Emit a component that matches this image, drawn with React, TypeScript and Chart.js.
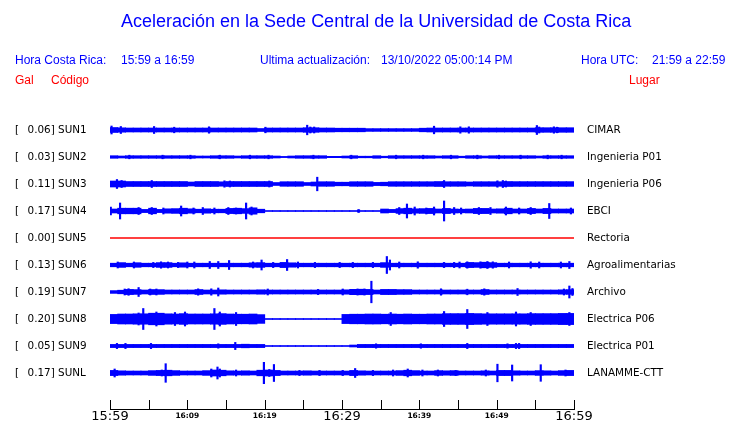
import React, { useEffect, useRef } from 'react';
import { Chart, registerables } from 'chart.js';

Chart.register(...registerables);

// ---- axis / labels ----
const tickMinutes = [0, 5, 10, 15, 20, 25, 30, 35, 40, 45, 50, 55, 60];
const labelMinutes = [0, 10, 20, 30, 40, 50, 60];
const timeLabels = ['15:59', '16:09', '16:19', '16:29', '16:39', '16:49', '16:59'];
const bigLabelMinutes = [0, 30, 60];

const stationCodes = ['SUN1', 'SUN2', 'SUN3', 'SUN4', 'SUN5', 'SUN6', 'SUN7', 'SUN8', 'SUN9', 'SUNL'];
const peakGal = [0.06, 0.03, 0.11, 0.17, 0.0, 0.13, 0.19, 0.2, 0.05, 0.17];
const places = ['CIMAR', 'Ingenieria P01', 'Ingenieria P06', 'EBCI', 'Rectoria', 'Agroalimentarias', 'Archivo', 'Electrica P06', 'Electrica P01', 'LANAMME-CTT'];

// ---- trace envelopes: half-amplitude per minute (normalised units) ----
const sun1Base = [2.5,2.2,2.0,2.0,2.0,2.0,2.0,2.0,2.0,2.0, 2.0,2.0,2.0,2.0,2.0,2.0,2.0,2.0,2.0,1.5, 2.0,2.0,2.0,2.0,2.0,2.3,2.3,2.0,2.0,1.8, 1.8,1.8,1.8,1.4,1.4,1.4,1.4,1.4,1.4,1.4, 1.8,2.0,2.0,2.0,2.0,2.0,2.0,2.0,2.0,2.0, 2.0,2.0,2.0,2.0,2.0,2.3,2.3,2.3,2.3,2.3];
const sun2Base = [1.3,1.0,1.3,1.3,1.3,1.3,1.3,1.3,1.3,1.3, 1.3,1.0,1.0,1.3,1.3,1.3,1.0,1.3,1.3,1.3, 1.3,1.0,0.6,1.0,1.3,1.3,1.3,1.3,0.7,0.7, 1.0,1.3,0.8,0.8,1.3,0.8,1.3,1.3,1.3,1.3, 1.3,1.3,1.0,1.3,1.3,0.8,1.3,1.3,1.0,1.3, 1.3,1.3,1.3,1.3,1.3,1.0,1.3,1.3,1.3,1.3];
const sun3Base = [3.0,3.0,2.5,2.5,2.5,2.5,2.5,2.5,2.5,2.5, 2.0,2.5,2.5,2.5,2.2,2.5,2.5,2.5,2.5,2.5, 2.5,1.5,2.3,2.3,2.3,1.5,2.0,2.3,2.3,1.8, 1.8,2.3,2.3,2.3,1.6,1.8,2.3,2.3,2.3,2.3, 2.3,2.3,2.5,2.3,2.3,2.3,2.0,2.3,2.3,2.3, 2.3,2.5,2.4,2.4,2.4,2.4,2.4,2.4,2.4,2.4];
const sun4Base = [2.0,2.8,2.8,2.8,1.6,2.8,1.6,2.2,2.4,2.8, 2.2,1.8,2.2,1.8,1.8,2.6,2.8,2.4,3.2,1.8, 0.5,0.5,0.5,0.5,0.5,0.5,0.5,0.5,0.5,0.5, 0.5,0.5,0.5,0.5,0.5,2.0,1.6,2.4,2.8,2.2, 2.4,2.6,2.0,2.6,2.0,1.8,2.0,2.6,2.6,2.0, 2.2,2.8,2.0,2.0,2.6,2.0,2.6,2.0,2.0,2.0];
const sun5Level = [0, 0];
const sun5Minutes = [0, 60];
const sun6Base = [1.8,2.4,1.8,2.3,1.8,1.8,2.4,2.4,1.8,2.2, 1.8,1.8,1.8,1.8,1.8,1.8,1.8,1.8,2.2,2.4, 1.8,1.8,2.6,2.2,1.8,1.8,1.8,1.8,1.8,1.8, 1.8,1.8,1.8,1.8,1.8,2.4,1.8,1.8,1.8,1.8, 1.8,1.8,1.8,1.8,1.8,1.8,2.6,2.4,2.8,2.4, 1.8,1.8,1.8,1.8,1.8,1.8,1.8,1.8,1.8,1.8];
const sun7Base = [1.4,1.8,2.6,2.4,2.0,2.5,2.4,2.0,2.0,2.0, 2.0,2.5,2.0,2.0,2.2,2.0,2.0,2.0,2.0,2.2, 2.0,2.0,2.0,2.0,2.0,2.0,2.0,2.0,2.0,2.0, 2.2,2.7,2.8,2.6,2.0,2.6,2.6,2.4,2.4,2.0, 2.0,2.0,2.0,2.0,2.0,2.0,2.0,2.0,2.5,2.0, 2.0,2.0,2.0,2.0,2.0,2.0,2.0,2.0,2.2,2.4];
const sun8Base = [4.6,5.0,5.0,5.2,5.2,5.8,5.8,5.2,5.0,5.4, 5.0,5.0,5.0,5.2,5.4,5.0,4.8,4.8,5.0,4.4, 0.5,0.5,0.5,0.5,0.5,0.5,0.5,0.5,0.5,0.5, 4.6,4.8,4.8,5.0,5.0,4.8,5.0,4.8,5.0,4.8, 4.8,5.0,5.0,5.4,5.4,5.4,5.6,5.4,5.2,5.2, 5.2,5.2,5.2,5.2,5.4,5.4,5.4,5.4,5.6,5.6];
const sun9Base = [1.6,1.6,1.6,1.6,1.6,1.6,1.6,1.6,1.6,1.6, 1.6,1.6,1.6,1.6,1.6,1.6,1.6,1.8,1.6,1.6, 0.5,0.5,0.5,0.5,0.5,0.5,0.5,0.5,0.5,0.5, 0.5,1.0,1.6,1.6,1.6,1.6,1.6,1.6,1.6,1.6, 1.6,1.6,1.6,1.6,1.6,1.6,1.6,1.6,1.6,1.6, 1.6,1.6,1.6,1.6,1.6,1.6,1.6,1.6,1.6,1.6];
const sunLBase = [2.6,2.2,2.0,2.0,2.0,2.4,2.6,2.8,2.4,2.0, 2.0,2.0,2.4,3.0,2.8,2.2,2.0,2.2,2.0,2.8, 3.0,2.6,2.0,2.0,2.0,2.2,2.0,2.0,2.0,2.0, 2.0,2.6,2.2,2.0,2.0,2.0,2.0,2.4,2.8,2.4, 2.0,2.0,2.4,2.2,2.4,2.0,2.0,2.0,2.2,2.0, 2.6,2.6,2.2,2.0,2.0,2.4,2.2,2.0,2.4,2.6];

// ---- peaks: [minute after 15:59, half-amplitude] ----
const sun1Spikes = [[0.2,4],[1.4,3.5],[5.7,3.5],[8.3,2.8],[12.8,3.2],[20.1,2.8],[25.5,4.8],[25.9,3],[26.4,3],[41.9,3.8],[45.3,3.2],[46.4,3.2],[55.2,4.5],[55.5,3],[57.4,3.2],[57.8,2.8]];
const sun2Spikes = [[2.5,1.8],[6.8,1.8],[10.4,1.8],[14.2,1.8],[18.1,1.8],[20.5,1.8],[26.3,1.8],[31.2,1.8],[37.0,1.8],[40.5,1.8],[44.1,1.8],[47.5,1.8],[50.3,1.8],[53.1,1.8],[56.6,1.8],[58.4,1.8]];
const sun3Spikes = [[0.9,4.5],[1.5,3.5],[5.4,3.5],[14.8,3.2],[15.5,3],[20.6,3],[26.8,6.8],[43.2,3.5],[50.1,3.2],[50.8,3.5],[51.2,3]];
const sun4Spikes = [[0.1,4],[1.3,8],[3.7,3.5],[5.4,3.5],[6.9,3],[9.2,5],[10.8,3],[12.0,3.5],[13.5,3],[15.3,3.5],[16.3,3],[17.6,8],[18.3,4],[32.1,1.3],[32.2,1.3],[37.4,3.5],[38.4,7],[39.4,4],[40.9,3],[41.9,4],[43.2,10],[44.5,3.5],[45.4,3],[47.7,3.5],[49.2,3.5],[51.2,4],[52.9,3],[54.4,3.5],[56.8,7.5],[59.6,3]];
const sun6Spikes = [[1.0,3],[3.1,3],[5.6,2.6],[6.6,3.2],[7.5,3],[8.8,2.6],[10.0,3],[10.9,3],[12.9,3.5],[14.0,3.5],[15.4,4.5],[18.5,3],[19.6,5],[21.1,2.6],[22.9,5.5],[24.3,3],[26.5,2.6],[29.7,2.6],[31.4,2.6],[34.0,2.6],[35.8,8.5],[36.2,5],[37.4,3],[39.8,3.2],[43.2,2.6],[44.5,2.6],[45.2,3],[46.2,3.2],[47.9,3.2],[48.8,3.5],[49.5,3.2],[51.6,3],[54.4,3.2],[55.5,3],[58.3,3],[59.4,3.5]];
const sun7Spikes = [[1.9,3],[2.4,3.3],[3.7,4.5],[5.2,3],[6.0,3],[11.4,3.2],[13.1,3.2],[14.0,4],[20.4,3],[26.9,2.6],[30.1,3],[32.0,3],[32.9,3],[33.8,10.8],[42.8,3.2],[46.2,2.8],[48.4,3.2],[52.7,3.5],[58.7,3],[59.4,6],[59.8,3.5]];
const sun8Spikes = [[3.7,6],[4.3,10.5],[6.0,7],[8.4,6.5],[9.7,7],[13.5,10.5],[14.2,7],[16.3,6.5],[36.3,6.5],[43.2,7.5],[46.2,9.5],[48.8,6.5],[52.5,7],[54.4,6.5],[59.4,6.5]];
const sun9Spikes = [[0.9,2.6],[2.0,2.6],[5.3,2.6],[14.0,2.2],[16.2,3.6],[34.4,2.2],[40.2,2.2],[46.2,2.6],[51.4,2.2],[52.5,2.6],[52.9,2.6]];
const sunLSpikes = [[0.6,4],[6.7,3],[7.2,9.3],[13.1,4],[13.9,6],[14.2,4],[16.3,3],[19.9,10.7],[20.6,3.5],[21.2,8.5],[24.5,2.6],[27.1,2.6],[30.1,2.6],[31.7,4.5],[34.0,2.6],[36.6,3],[38.5,4],[40.4,3],[42.4,3],[44.7,2.6],[48.6,3],[50.1,8.8],[52.0,8],[55.7,8.3],[58.9,3]];

const baseSeries = [sun1Base, sun2Base, sun3Base, sun4Base, null, sun6Base, sun7Base, sun8Base, sun9Base, sunLBase];
const spikeSeries = [sun1Spikes, sun2Spikes, sun3Spikes, sun4Spikes, null, sun6Spikes, sun7Spikes, sun8Spikes, sun9Spikes, sunLSpikes];

const TRACE_SPACING = 27;
const BLUE = '#0000ff';
const RED = '#ff0000';

export default function App() {
  const ref = useRef<HTMLCanvasElement>(null);

  useEffect(() => {
    const rowValues = stationCodes.map((_, i) => TRACE_SPACING * (i + 1));
    const yMax = TRACE_SPACING * 11 + TRACE_SPACING / 3;
    const leftLabels = stationCodes.map((c, i) => `[\u2002 ${peakGal[i].toFixed(2)}] ${c}`);

    const datasets: any[] = [];
    stationCodes.forEach((_, i) => {
      const off = rowValues[i];
      const base = baseSeries[i];
      const spikes = spikeSeries[i];
      if (!base) {
        datasets.push({
          type: 'line',
          data: sun5Level.map((v, k) => ({ x: sun5Minutes[k], y: off + v })),
          borderColor: RED,
          borderWidth: 1.5,
          pointRadius: 0,
          yAxisID: 'y',
        });
        return;
      }
      datasets.push({
        type: 'bar',
        data: base.map((a, k) => ({ x: k + 0.5, y: [off - a, off + a] })),
        backgroundColor: BLUE,
        borderWidth: 0,
        barThickness: 8,
        stack: 'one',
        yAxisID: 'y',
      });
      datasets.push({
        type: 'bar',
        data: (spikes || []).map(([t, a]) => ({ x: t, y: [off - a, off + a] })),
        backgroundColor: BLUE,
        borderWidth: 0,
        barThickness: 1.5,
        stack: 'one',
        yAxisID: 'y',
      });
    });

    const tickMarks = {
      id: 'tickMarks',
      afterDraw(chart: any) {
        const xs = chart.scales.x;
        const { ctx, chartArea } = chart;
        ctx.save();
        ctx.strokeStyle = '#000';
        ctx.lineWidth = 1;
        ctx.beginPath();
        xs.ticks.forEach((t: any) => {
          const px = Math.round(xs.getPixelForValue(t.value)) + 0.5;
          ctx.moveTo(px, chartArea.bottom);
          ctx.lineTo(px, chartArea.bottom - 9);
        });
        ctx.stroke();
        ctx.restore();
      },
    };

    const yCommon = {
      type: 'linear',
      min: 0,
      max: yMax,
      reverse: true,
      stacked: false,
      grid: { display: false, drawTicks: false },
      border: { display: false },
      afterBuildTicks: (scale: any) => {
        scale.ticks = rowValues.map((v) => ({ value: v }));
      },
    };

    const chart = new Chart(ref.current!, {
      type: 'bar',
      data: { datasets },
      options: {
        animation: false,
        responsive: false,
        events: [],
        layout: { autoPadding: false, padding: { top: 103, left: 15, right: 0, bottom: 0 } },
        plugins: { legend: { display: false }, tooltip: { enabled: false }, title: { display: false } },
        scales: {
          x: {
            type: 'linear',
            min: 0,
            max: 60,
            offset: false,
            grid: { display: false, drawTicks: false },
            border: { display: true, color: '#000', width: 1 },
            afterBuildTicks: (scale: any) => {
              scale.ticks = tickMinutes.map((v) => ({ value: v }));
            },
            afterFit: (scale: any) => {
              scale.height = 14;
              scale.paddingLeft = 0;
              scale.paddingRight = 0;
            },
            ticks: {
              autoSkip: false,
              maxRotation: 0,
              padding: 1,
              color: '#000',
              callback: (value: any) => {
                const k = labelMinutes.indexOf(Number(value));
                return k >= 0 ? timeLabels[k] : '';
              },
              font: (ctx: any) => {
                const v = ctx.tick ? ctx.tick.value : 0;
                return bigLabelMinutes.includes(v)
                  ? { family: 'DejaVu Sans', size: 13, lineHeight: '13px' }
                  : { family: 'DejaVu Sans', size: 7.5, weight: 'bold', lineHeight: '13px' };
              },
            },
          },
          y: {
            ...yCommon,
            position: 'left',
            afterFit: (scale: any) => {
              scale.width = 95;
              scale.paddingTop = 0;
              scale.paddingBottom = 0;
            },
            ticks: {
              crossAlign: 'far',
              padding: 0,
              color: '#000',
              font: { family: 'DejaVu Sans', size: 10.4 },
              callback: (_v: any, idx: number) => leftLabels[idx],
            },
          },
          y2: {
            ...yCommon,
            position: 'right',
            afterFit: (scale: any) => {
              scale.width = 166;
              scale.paddingTop = 0;
              scale.paddingBottom = 0;
            },
            ticks: {
              crossAlign: 'near',
              padding: 13,
              color: '#000',
              font: { family: 'DejaVu Sans', size: 10.4 },
              callback: (_v: any, idx: number) => places[idx],
            },
          },
        } as any,
      },
      plugins: [tickMarks],
    } as any);

    return () => chart.destroy();
  }, []);

  const txt = (left: number, top: number, size: number, color: string, s: string) => (
    <div style={{ position: 'absolute', left, top, fontSize: size, lineHeight: `${size}px`, color, whiteSpace: 'pre' }}>{s}</div>
  );

  return (
    <div style={{ position: 'absolute', left: 0, top: 0, width: 740, height: 423, fontFamily: '"Liberation Sans", Arial, sans-serif', background: '#fff', overflow: 'hidden' }}>
      <canvas ref={ref} width={740} height={423} style={{ position: 'absolute', left: 0, top: 0, width: 740, height: 423 }} />
      {txt(121, 12, 18, BLUE, 'Aceleración en la Sede Central de la Universidad de Costa Rica')}
      {txt(15, 54, 12, BLUE, 'Hora Costa Rica:')}
      {txt(121, 54, 12, BLUE, '15:59 a 16:59')}
      {txt(260, 54, 12, BLUE, 'Ultima actualización:')}
      {txt(381, 54, 12, BLUE, '13/10/2022 05:00:14 PM')}
      {txt(581, 54, 12, BLUE, 'Hora UTC:')}
      {txt(652, 54, 12, BLUE, '21:59 a 22:59')}
      {txt(15, 74, 12, RED, 'Gal')}
      {txt(51, 74, 12, RED, 'Código')}
      {txt(629, 74, 12, RED, 'Lugar')}
    </div>
  );
}
